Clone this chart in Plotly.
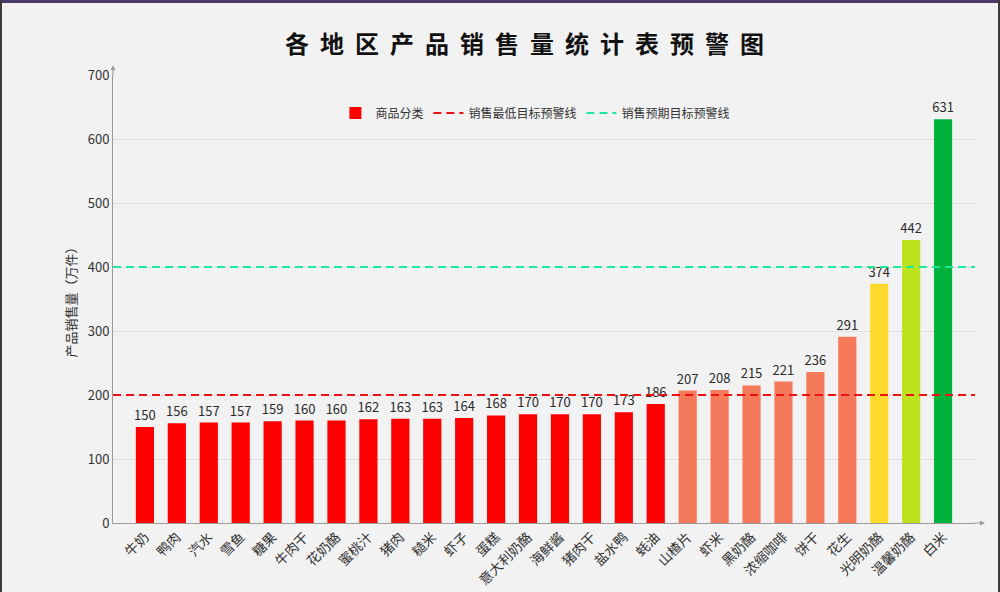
import plotly.graph_objects as go

# product names and sales (万件)
products = ['牛奶', '鸭肉', '汽水', '雪鱼', '糖果', '牛肉干', '花奶酪', '蜜桃汁', '猪肉', '糙米',
            '虾子', '蛋糕', '意大利奶酪', '海鲜酱', '猪肉干', '盐水鸭', '蚝油', '山楂片', '虾米',
            '黑奶酪', '浓缩咖啡', '饼干', '花生', '光明奶酪', '温馨奶酪', '白米']
sales = [150, 156, 157, 157, 159, 160, 160, 162, 163, 163,
         164, 168, 170, 170, 170, 173, 186, 207, 208,
         215, 221, 236, 291, 374, 442, 631]

low_target = 200
plan_target = 400

FONT = 'Noto Sans CJK SC'


def bar_color(v):
    if v < low_target:
        return '#ff0000'
    if v < 300:
        return '#f47a5b'
    if v < 400:
        return '#fdda2c'
    if v < 500:
        return '#bce21e'
    return '#00b33c'


xs = list(range(len(products)))
colors = [bar_color(v) for v in sales]

fig = go.Figure()

fig.add_trace(go.Bar(
    x=xs, y=sales, name='商品分类', width=0.57,
    marker=dict(color=colors, line=dict(width=0)),
    text=[str(v) for v in sales], textposition='outside', constraintext='none',
    textfont=dict(size=13, color='#2a2a2a', family=FONT),
    cliponaxis=False,
))

# warning lines across the plot
fig.add_trace(go.Scatter(
    x=[-1, len(products)], y=[low_target, low_target], mode='lines',
    name='销售最低目标预警线', line=dict(color='#ee1111', width=2, dash='8px,5px'),
))
fig.add_trace(go.Scatter(
    x=[-1, len(products)], y=[plan_target, plan_target], mode='lines',
    name='销售预期目标预警线', line=dict(color='#1de99a', width=2, dash='8px,5px'),
))

# axis arrows
fig.add_annotation(xref='paper', yref='paper', x=1.0116, y=0, ax=-12, ay=0,
                   showarrow=True, arrowhead=2, arrowsize=1, arrowwidth=1,
                   arrowcolor='#9a9a9a', text='')
fig.add_annotation(xref='paper', yref='paper', x=0, y=1.022, ax=0, ay=12,
                   showarrow=True, arrowhead=2, arrowsize=1, arrowwidth=1,
                   arrowcolor='#9a9a9a', text='')

# page frame: purple strip on top, dark edges on the sides
fig.add_shape(type='rect', xref='paper', yref='paper',
              x0=-113 / 862, x1=887 / 862, y0=(523 - 3) / 448, y1=523 / 448,
              fillcolor='#4a3a6b', line=dict(width=0), layer='above')
fig.add_shape(type='rect', xref='paper', yref='paper',
              x0=-113 / 862, x1=-111 / 862, y0=-69 / 448, y1=523 / 448,
              fillcolor='#3a3a3a', line=dict(width=0), layer='above')
fig.add_shape(type='rect', xref='paper', yref='paper',
              x0=885 / 862, x1=887 / 862, y0=-69 / 448, y1=523 / 448,
              fillcolor='#3a3a3a', line=dict(width=0), layer='above')

fig.update_layout(
    width=1000, height=592,
    margin=dict(l=113, r=25, t=75, b=69),
    paper_bgcolor='#f2f2f2', plot_bgcolor='#f2f2f2',
    font=dict(family=FONT, size=13, color='#333333'),
    title=dict(text='<b><span style="letter-spacing:11px">各地区产品销售量统计表预警图</span></b>',
               x=0.53, xanchor='center', y=0.925, yanchor='middle',
               font=dict(size=24, color='#111111', family=FONT)),
    legend=dict(orientation='h', x=0.49, xanchor='center', y=0.915, yanchor='middle',
                font=dict(size=12, color='#333333'), bgcolor='rgba(0,0,0,0)',
                itemwidth=30),
    showlegend=True,
    bargap=0.4,
    xaxis=dict(range=[-1, len(products)], tickmode='array', tickvals=xs, ticktext=products,
               tickangle=-45, showgrid=False, zeroline=False, showline=True, automargin=False,
               linecolor='#9a9a9a', linewidth=1, ticks='', tickfont=dict(size=13.5, color='#333333')),
    yaxis=dict(range=[0, 700], dtick=100, showgrid=True, gridcolor='#dedede', gridwidth=1,
               zeroline=False, showline=True, linecolor='#9a9a9a', linewidth=1, ticks='',
               automargin=False,
               title=dict(text='产品销售量（万件）', font=dict(size=13, color='#333333'), standoff=8),
               tickfont=dict(size=13, color='#333333')),
)

fig.write_html('out.html', config={'displayModeBar': False},
               post_script="document.body.style.margin='0';")
